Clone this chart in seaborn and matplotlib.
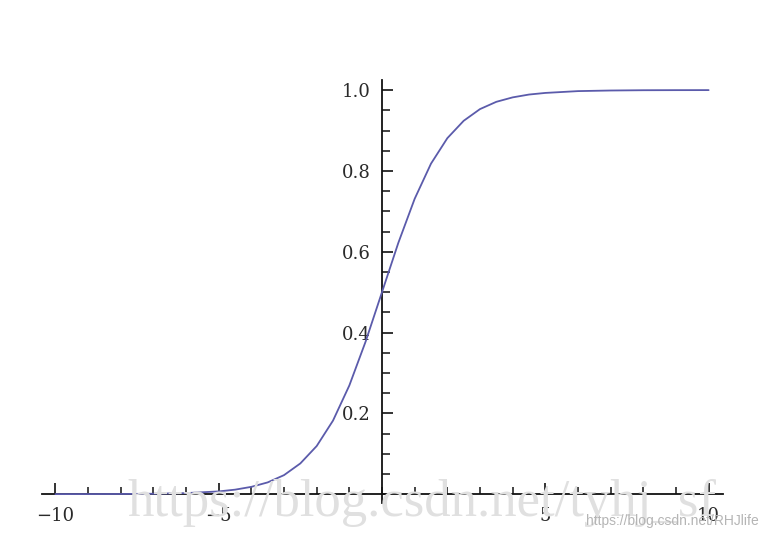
import matplotlib
matplotlib.use("Agg")
import matplotlib.pyplot as plt
import seaborn as sns
import pandas as pd
from matplotlib.ticker import MultipleLocator, FixedLocator

sns.set_style("white")
plt.rcParams['font.family'] = ['DejaVu Serif', 'Liberation Serif']

# values
x_vals = [-10, -9, -8, -7, -6, -5, -4.5, -4, -3.5, -3, -2.5, -2, -1.5, -1, -0.5,
          0, 0.5, 1, 1.5, 2, 2.5, 3, 3.5, 4, 4.5, 5, 6, 7, 8, 9, 10]
y_vals = [0.0000, 0.0001, 0.0003, 0.0009, 0.0025, 0.0067, 0.011, 0.018, 0.029, 0.047,
          0.076, 0.119, 0.182, 0.269, 0.378, 0.500, 0.622, 0.731, 0.818, 0.881,
          0.924, 0.953, 0.971, 0.982, 0.989, 0.993, 0.9975, 0.999, 0.9997, 0.9999, 1.0]
x_ticks = [-10, -5, 5, 10]
x_tick_labels = ["\u221210", "\u22125", "5", "10"]
y_ticks = [0.2, 0.4, 0.6, 0.8, 1.0]
y_tick_labels = ["0.2", "0.4", "0.6", "0.8", "1.0"]

df = pd.DataFrame({"x": x_vals, "y": y_vals})

fig = plt.figure(figsize=(7.66, 5.40), dpi=100)
ax = fig.add_axes([42/766, 1-503/540, (723-42)/766, (503-80)/540])

sns.lineplot(data=df, x="x", y="y", ax=ax, color="#5b5bab", linewidth=1.3, zorder=3)

ax.set_xlim(-10.41, 10.44)
ax.set_ylim(-0.022, 1.025)
ax.set_xlabel("")
ax.set_ylabel("")

for s in ["top", "right"]:
    ax.spines[s].set_visible(False)
ax.spines["left"].set_position(("data", 0))
ax.spines["bottom"].set_position(("data", 0))
for s in ["left", "bottom"]:
    ax.spines[s].set_color("#111111")
    ax.spines[s].set_linewidth(1.3)

ax.xaxis.set_major_locator(FixedLocator(x_ticks))
ax.set_xticklabels(x_tick_labels)
ax.xaxis.set_minor_locator(MultipleLocator(1))
ax.yaxis.set_major_locator(FixedLocator(y_ticks))
ax.set_yticklabels(y_tick_labels)
ax.yaxis.set_minor_locator(MultipleLocator(0.05))

ax.tick_params(axis="x", which="both", bottom=True, top=False)
ax.tick_params(axis="y", which="both", left=True, right=False)
ax.tick_params(axis="x", which="major", direction="in", length=8, width=1.2,
               pad=9, labelsize=13, colors="#111111", labelcolor="#2a2a2a")
ax.tick_params(axis="x", which="minor", direction="in", length=5, width=1.1, colors="#111111")
ax.tick_params(axis="y", which="major", direction="in", length=8, width=1.2,
               pad=8, labelsize=13, colors="#111111", labelcolor="#2a2a2a")
ax.tick_params(axis="y", which="minor", direction="in", length=5.5, width=1.1, colors="#111111")

# watermarks
fig.text(0.551, 1-503/540, "https://blog.csdn.net/tyhj_sf", fontsize=38,
         family=["Liberation Serif", "DejaVu Serif"],
         color="#e0e0e0", ha="center", va="center", zorder=0)
fig.text(0.99, 1-521/540, "https://blog.csdn.net/RHJlife", fontsize=10,
         family=["Liberation Sans", "DejaVu Sans"], color="#b5b5b5",
         ha="right", va="center")

fig.savefig("out.png", dpi=100)
